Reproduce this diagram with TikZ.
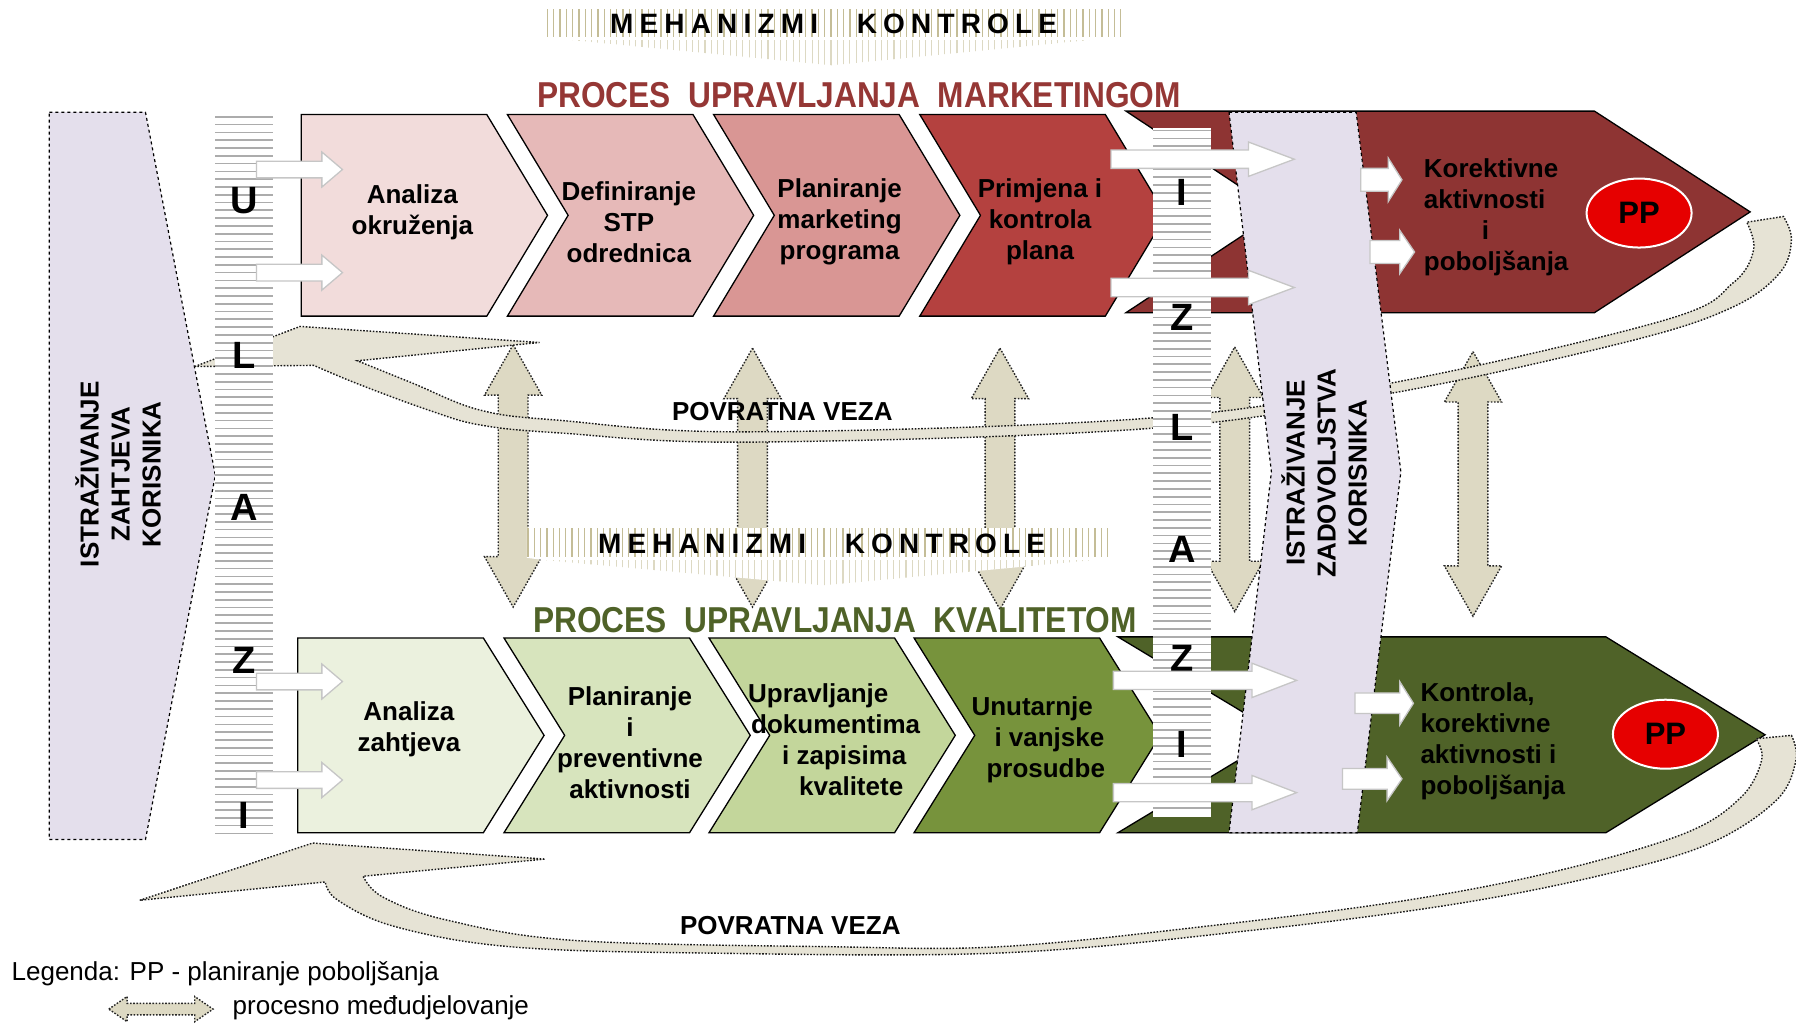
\documentclass[tikz,border=0pt]{standalone}
\usepackage{fontspec}
\setmainfont{Liberation Sans}
\newfontfamily\spacedfont[LetterSpace=22]{Liberation Sans}
\newfontfamily\narrowfont[FakeStretch=0.88]{Liberation Sans}
\usetikzlibrary{shapes.geometric}

\definecolor{mA}{HTML}{F2DCDB}
\definecolor{mB}{HTML}{E6B9B8}
\definecolor{mC}{HTML}{D99694}
\definecolor{mD}{HTML}{B4413F}
\definecolor{mE}{HTML}{8E3433}
\definecolor{qA}{HTML}{EBF1DE}
\definecolor{qB}{HTML}{D7E4BD}
\definecolor{qC}{HTML}{C3D69B}
\definecolor{qD}{HTML}{77933C}
\definecolor{qE}{HTML}{4F6228}
\definecolor{lav}{HTML}{E4DFEC}
\definecolor{beige}{HTML}{DDD9C3}
\definecolor{bandfill}{HTML}{E6E3D5}
\definecolor{khaki}{HTML}{C4BD97}
\definecolor{khakil}{HTML}{DDD9C3}
\definecolor{titleR}{HTML}{953735}
\definecolor{titleG}{HTML}{4F6228}
\definecolor{ppred}{HTML}{E60000}

\newcommand{\myHArrow}[7][warrow]{\path[#1] ({#2},{#5-#6}) -- ({#3},{#5-#6}) -- ({#3},{#5-#7}) -- ({#4},{#5}) -- ({#3},{#5+#7}) -- ({#3},{#5+#6}) -- ({#2},{#5+#6}) -- cycle;}
\newcommand{\myVDArrow}[3]{\path[darrow] ({#1},{#2}) -- ({#1+25},{#2+44}) -- ({#1+13},{#2+44}) -- ({#1+13},{#3-44}) -- ({#1+25},{#3-44}) -- ({#1},{#3}) -- ({#1-25},{#3-44}) -- ({#1-13},{#3-44}) -- ({#1-13},{#2+44}) -- ({#1-25},{#2+44}) -- cycle;}
\newcommand{\myChevF}[6]{\path[chev,fill=#1] (#2,#5) -- (#3,#5) -- (#4,{(#5+#6)/2}) -- (#3,#6) -- (#2,#6) -- cycle;}
\newcommand{\myChev}[7]{\path[chev,fill=#1] (#2,#6) -- (#3,#6) -- (#4,{(#6+#7)/2}) -- (#3,#7) -- (#2,#7) -- (#5,{(#6+#7)/2}) -- cycle;}

\begin{document}
\begin{tikzpicture}[x=1.1454pt,y=-1.1454pt,
  chev/.style={draw=black,line width=1.3pt,line join=miter},
  warrow/.style={fill=white,draw=gray!45,line width=1.3pt},
  darrow/.style={fill=beige,draw=black!85,dash pattern=on 1.6pt off 1.6pt,line width=1.4pt},
  fband/.style={fill=bandfill,draw=black!90,dash pattern=on 1.6pt off 1.6pt,line width=1.4pt},
  lavshape/.style={fill=lav,draw=black,dashed,line width=1.2pt},
  colstripe/.style={draw=gray!65,line width=1.7pt},
  bstripe/.style={draw=khaki,line width=1.3pt},
  bstripel/.style={draw=khakil,line width=1.1pt},
  boxtxt/.style={font=\fontsize{26}{31}\selectfont\bfseries,align=center,inner sep=0pt},
  boxtxtl/.style={font=\fontsize{26}{31}\selectfont\bfseries,align=left,inner sep=0pt,anchor=west},
  colletter/.style={font=\fontsize{38}{38}\selectfont\bfseries,inner sep=0pt},
  mktxt/.style={font=\spacedfont\fontsize{28}{28}\selectfont\bfseries,inner sep=0pt},
  ttl/.style={font=\narrowfont\fontsize{36}{36}\selectfont\bfseries,inner sep=0pt},
  pp/.style={ellipse,fill=ppred,draw=white,line width=2pt,minimum width=105pt,minimum height=69pt,inner sep=0pt,font=\fontsize{31}{31}\selectfont\bfseries},
  legtxt/.style={font=\fontsize{26}{31}\selectfont,inner sep=0pt,anchor=west}
]
\useasboundingbox (0,0) rectangle (1568,894);

% left lavender panel
\path[lavshape] (43,98) -- (127,98) -- (188,415) -- (127,733) -- (43,733) -- cycle;

% chevrons top
\myChevF{mA}{263}{425}{478}{100}{276}
\myChev{mB}{443}{605}{658}{496}{100}{276}
\myChev{mC}{623}{785}{838}{676}{100}{276}
\myChev{mD}{803}{965}{1018}{856}{100}{276}
\myChev{mE}{983}{1392}{1528}{1116}{97}{273}
% chevrons bottom
\myChevF{qA}{260}{422}{475}{557}{727}
\myChev{qB}{440}{602}{655}{493}{557}{727}
\myChev{qC}{619}{781}{834}{672}{557}{727}
\myChev{qD}{798}{960}{1013}{851}{557}{727}
\myChev{qE}{976}{1402}{1541}{1118}{556}{727}

% vertical interaction arrows
\myVDArrow{448}{301}{530}
\myVDArrow{657}{304}{530}
\myVDArrow{873}{304}{532}
\myVDArrow{1078}{303}{534}
\myVDArrow{1286}{307}{538}

% feedback bands
\path[fband] (170,320) -- (262,285) -- (471,299) -- (312,315)
 -- plot[smooth,tension=0.6] coordinates {(312,315) (359,334) (419,358) (489,367) (653,377) (1004,365) (1222,333) (1455,279) (1513,247) (1531,218) (1525,194)}
 -- plot[smooth,tension=0.6] coordinates {(1557,189) (1564,209) (1554,238) (1513,268) (1426,297) (1222,342) (1004,374) (653,386) (489,378) (419,371) (374,358) (312,335) (274,319)}
 -- cycle;
\path[fband] (122,786) -- (273,736) -- (476,750) -- (317,765)
 -- plot[smooth,tension=0.6] coordinates {(317,765) (334,783) (389,803) (501,821) (724,826.5) (873,826.5) (1050,809) (1228,786) (1361,760) (1471,727.5) (1520,696) (1538,663.5) (1533,645)}
 -- plot[smooth,tension=0.6] coordinates {(1564,642) (1568,663.5) (1551,698.5) (1493.5,736) (1405,762.5) (1272,789) (1095,812) (873,832) (612,832) (445,826.5) (345,809) (295,786) (284,770)}
 -- cycle;

\node[boxtxt] (pv1) at (683,359) {POVRATNA VEZA};
\node[boxtxt] (pv2) at (690,808) {POVRATNA VEZA};

% middle banner
\fill[white] (460,461) -- (968,461) -- (968,487) -- (955,489) -- (719,511) -- (475,489) -- (460,487) -- cycle;
\foreach \xx in {461,466.5,...,968} \draw[bstripe] (\xx,461) -- (\xx,486);
\begin{scope}
\clip (475,489) -- (719,511) -- (955,489) -- cycle;
\foreach \xx in {461,466.5,...,968} \draw[bstripel] (\xx,489) -- (\xx,512);
\end{scope}
\node[mktxt] (mk2a) at (613,475) {MEHANIZMI};
\node[mktxt] (mk2b) at (825,475) {KONTROLE};

% top banner
\foreach \xx in {478,483.5,...,982} \draw[bstripe] (\xx,8) -- (\xx,32);
\begin{scope}
\clip (499,35) -- (726,57) -- (951,35) -- cycle;
\foreach \xx in {478,483.5,...,982} \draw[bstripel] (\xx,35) -- (\xx,58);
\end{scope}
\node[mktxt] (mk1a) at (623.5,21) {MEHANIZMI};
\node[mktxt] (mk1b) at (835.5,21) {KONTROLE};

% ULAZI column
\fill[white] (188,100) rectangle (238,733);
\foreach \yy in {102,108.8,...,732} \draw[colstripe] (188,\yy) -- (238,\yy);
\node[colletter] (u1) at (213,175) {U};
\node[colletter] (u2) at (213,310) {L};
\node[colletter] (u3) at (213,443) {A};
\node[colletter] (u4) at (213,577) {Z};
\node[colletter] (u5) at (213,712) {I};

% IZLAZI column
\fill[white] (1007,112) rectangle (1057,713);
\foreach \yy in {114,120.8,...,712} \draw[colstripe] (1007,\yy) -- (1057,\yy);
\node[colletter] (i1) at (1032,168) {I};
\node[colletter] (i2) at (1032,277) {Z};
\node[colletter] (i3) at (1032,373) {L};
\node[colletter] (i4) at (1032,480) {A};
\node[colletter] (i5) at (1032,575) {Z};
\node[colletter] (i6) at (1032,650) {I};

% right lavender column
\path[lavshape] (1073,98) -- (1184,98) -- (1223,412) -- (1185,727) -- (1073,727) -- (1110,412) -- cycle;

% white block arrows
\myHArrow{224}{281}{299}{148}{7.3}{15.3}
\myHArrow{224}{281}{299}{238}{7.3}{15.3}
\myHArrow{224}{281}{299}{595}{7.3}{15.3}
\myHArrow{224}{281}{299}{681}{7.3}{15.3}
\myHArrow{970}{1090}{1130}{139}{8}{15}
\myHArrow{970}{1090}{1130}{251}{8}{15}
\myHArrow{972}{1093}{1132}{594}{8}{15}
\myHArrow{972}{1093}{1132}{692}{8}{15}
\myHArrow{1188}{1212}{1224}{157}{10}{19}
\myHArrow{1196}{1222}{1235}{220}{10}{19}
\myHArrow{1183}{1222}{1234}{614}{9}{19}
\myHArrow{1172}{1211}{1224}{680}{9}{19}

% texts
\node[boxtxt] (t1) at (360,185) {Analiza\\okruženja};
\node[boxtxt] (t2) at (549,194) {Definiranje\\STP\\odrednica};
\node[boxtxt] (t3) at (733,194) {Planiranje\\marketing\\programa};
\node[boxtxt] (t4) at (908,194) {Primjena i\\kontrola\\plana};
\node[boxtxtl] (t5) at (1243,190) {Korektivne\\aktivnosti\\\hspace*{58pt}i\\poboljšanja};
\node[boxtxt] (b1) at (357,637) {Analiza\\zahtjeva};
\node[boxtxt] (b2) at (550,648) {Planiranje\\i\\preventivne\\aktivnosti};
\node[boxtxtl] (b3) at (653,646) {Upravljanje\\\hspace*{3pt}dokumentima\\\hspace*{34pt}i zapisima\\\hspace*{51pt}kvalitete};
\node[boxtxtl] (b4) at (848,646) {Unutarnje\\\hspace*{23pt}i vanjske\\\hspace*{15pt}prosudbe};
\node[boxtxtl] (b5) at (1240,647) {Kontrola,\\korektivne\\aktivnosti i\\poboljšanja};

\node[pp] (pp1) at (1431,186) {PP};
\node[pp] (pp2) at (1454,641) {PP};

\node[ttl,text=titleR] (tt1) at (750,83) {PROCES\ \ UPRAVLJANJA\ \ MARKETINGOM};
\node[ttl,text=titleG] (tt2) at (729,541) {PROCES\ \ UPRAVLJANJA\ \ KVALITETOM};

\node[boxtxt,rotate=90] (lz) at (103,414) {ISTRAŽIVANJE\\ZAHTJEVA\\KORISNIKA};
\node[boxtxt,rotate=90] (lzd) at (1156,413) {ISTRAŽIVANJE\\ZADOVOLJSTVA\\KORISNIKA};

% legend
\node[legtxt] (lg1) at (10,850) {Legenda: PP - planiranje poboljšanja};
\path[darrow] (95,881) -- (111,870) -- (111,876) -- (170,876) -- (170,870) -- (186,881) -- (170,892) -- (170,886) -- (111,886) -- (111,892) -- cycle;
\node[legtxt] (lg2) at (203,880) {procesno međudjelovanje};
\end{tikzpicture}
\end{document}
